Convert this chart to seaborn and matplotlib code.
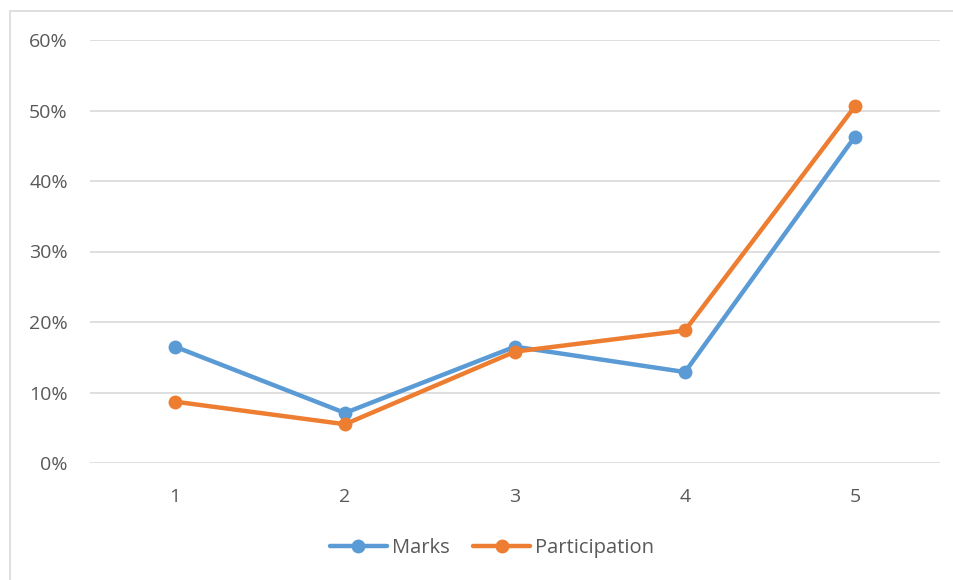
import matplotlib
matplotlib.use("Agg")
import matplotlib.pyplot as plt
import seaborn as sns
import pandas as pd
from matplotlib.ticker import PercentFormatter
from matplotlib.patches import Rectangle

categories = [1, 2, 3, 4, 5]
marks = [0.165, 0.071, 0.165, 0.129, 0.463]
participation = [0.087, 0.055, 0.158, 0.188, 0.506]
series_names = ["Marks", "Participation"]
colors = ["#5B9BD5", "#ED7D31"]

df = pd.DataFrame({
    "x": categories * 2,
    "y": marks + participation,
    "series": [series_names[0]] * 5 + [series_names[1]] * 5,
})

sns.set_theme(style="white")
plt.rcParams["font.family"] = ["Open Sans", "DejaVu Sans"]

fig = plt.figure(figsize=(9.54, 5.8), dpi=100)
ax = fig.add_axes([90/954, 1-463/580, 850/954, 423/580])

sns.lineplot(data=df, x="x", y="y", hue="series", palette=colors, marker="o",
             markersize=10, markeredgewidth=0, linewidth=3.2, ax=ax, legend=True)

ax.set_xlim(0.5, 5.5)
ax.set_ylim(0, 0.6)
ax.set_xticks(categories)
ax.set_yticks([0, 0.1, 0.2, 0.3, 0.4, 0.5, 0.6])
ax.yaxis.set_major_formatter(PercentFormatter(1.0, decimals=0))
ax.grid(axis="y", color="#D9D9D9", linewidth=1.2)
ax.set_axisbelow(True)
for s in ax.spines.values():
    s.set_visible(False)
ax.tick_params(axis="both", length=0, labelsize=14, labelcolor="#595959")
ax.tick_params(axis="x", pad=18)
ax.tick_params(axis="y", pad=16)
ax.set_xlabel("")
ax.set_ylabel("")

handles, labels = ax.get_legend_handles_labels()
ax.legend_.remove()
fig.legend(handles, labels, loc="center", bbox_to_anchor=(492/954, 1-548/580), ncol=2,
           frameon=False, fontsize=14.5, labelcolor="#595959", handlelength=2.8,
           columnspacing=1.2, handletextpad=0.25)

fig.patches.append(Rectangle((10/954, -0.05), 1.1, 1.05-11/580, transform=fig.transFigure,
                             fill=False, edgecolor="#D9D9D9", linewidth=1.2))

fig.savefig("out.png", dpi=100)
